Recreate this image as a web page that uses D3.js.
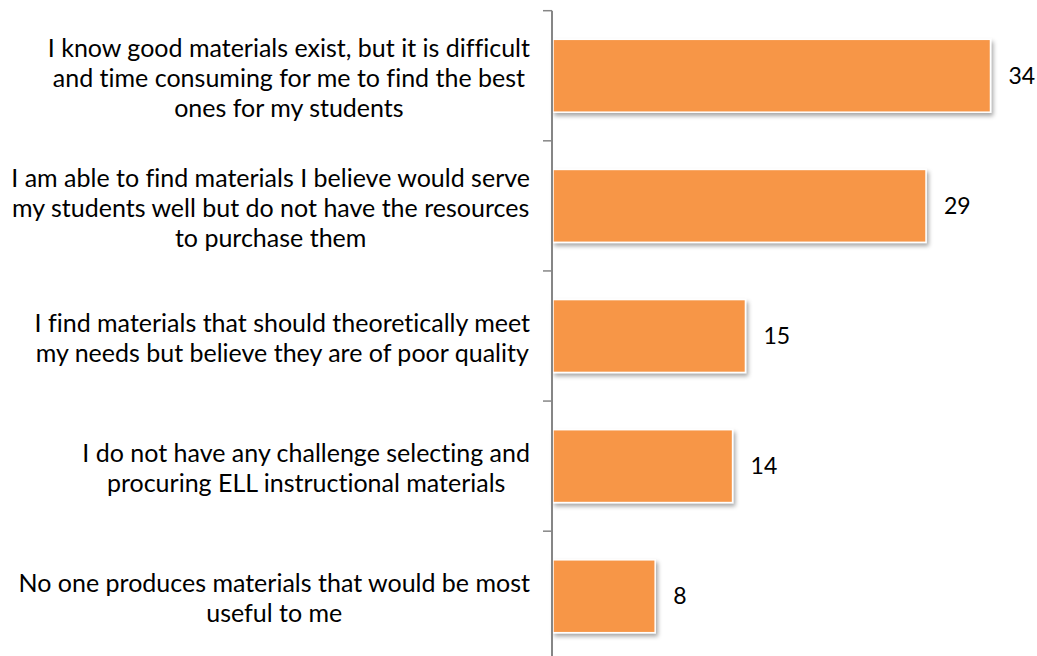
<!DOCTYPE html>
<html>
<head>
<meta charset="utf-8">
<script src="https://cdn.jsdelivr.net/npm/d3@7"></script>
<style>
  html, body { margin: 0; padding: 0; background: #ffffff; }
  svg { display: block; }
  text { font-family: Lato, "Open Sans", sans-serif; fill: #000000; font-variant-ligatures: none; }
</style>
</head>
<body>
<svg id="chart" width="1037" height="656"></svg>
<script>
// Survey responses: challenges in selecting ELL instructional materials
const categories = [
  "I know good materials exist, but it is difficult and time consuming for me to find the best ones for my students",
  "I am able to find materials I believe would serve my students well but do not have the resources to purchase them",
  "I find materials that should theoretically meet my needs but believe they are of poor quality",
  "I do not have any challenge selecting and procuring ELL instructional materials",
  "No one produces materials that would be most useful to me"
];
const labelLines = [
  ["I know good materials exist, but it is difficult", "and time consuming for me to find the best", "ones for my students"],
  ["I am able to find materials I believe would serve", "my students well but do not have the resources", "to purchase them"],
  ["I find materials that should theoretically meet", "my needs but believe they are of poor quality"],
  ["I do not have any challenge selecting and", "procuring ELL instructional materials"],
  ["No one produces materials that would be most", "useful to me"]
];
const values = [34, 29, 15, 14, 8];

const W = 1037, H = 656;
const axisX = 552;
const labelFont = 25;
const valueFont = 23;
const lineGap = 30;

const svg = d3.select("#chart");

const defs = svg.append("defs");
const shadow = defs.append("filter").attr("id", "barShadow")
  .attr("x", "-10%").attr("y", "-20%").attr("width", "130%").attr("height", "150%");
shadow.append("feDropShadow")
  .attr("dx", 2).attr("dy", 3).attr("stdDeviation", 2)
  .attr("flood-color", "#000").attr("flood-opacity", 0.35);

const y = d3.scaleBand()
  .domain(categories)
  .range([10.7, 661.3])
  .paddingInner(0.44)
  .paddingOuter(0.22);

const x = d3.scaleLinear()
  .domain([0, d3.max(values)])
  .range([axisX, 990.5]);

const data = categories.map((c, i) => ({ cat: c, value: values[i], lines: labelLines[i] }));

// bars
svg.append("g").selectAll("rect")
  .data(data)
  .join("rect")
  .attr("x", x(0) + 1)
  .attr("y", d => y(d.cat))
  .attr("width", d => x(d.value) - x(0) - 1)
  .attr("height", y.bandwidth())
  .attr("fill", "#F79646")
  .attr("stroke", "#ffffff")
  .attr("stroke-width", 1.5)
  .attr("filter", "url(#barShadow)");

// value labels
svg.append("g").selectAll("text")
  .data(data)
  .join("text")
  .attr("x", d => x(d.value) + 18)
  .attr("y", d => y(d.cat) + y.bandwidth() / 2)
  .attr("dy", "0.35em")
  .attr("font-size", valueFont)
  .text(d => d.value);

// category axis with ticks at band boundaries
const step = y.step();
const bounds = d3.range(categories.length + 1).map(i => y.range()[0] + i * step);
const axisG = svg.append("g");
axisG.append("line")
  .attr("x1", axisX).attr("x2", axisX)
  .attr("y1", bounds[0]).attr("y2", H)
  .attr("stroke", "#868686").attr("stroke-width", 2);
axisG.selectAll("line.tick")
  .data(bounds)
  .join("line")
  .attr("class", "tick")
  .attr("x1", axisX - 9).attr("x2", axisX)
  .attr("y1", d => d).attr("y2", d => d)
  .attr("stroke", "#868686").attr("stroke-width", 1.5);

// category labels: each block centred, block right-aligned to the axis
const labelRight = 530;
const labelG = svg.append("g");
data.forEach(d => {
  const g = labelG.append("g");
  const cy = y(d.cat) + y.bandwidth() / 2;
  const n = d.lines.length;
  const texts = g.selectAll("text")
    .data(d.lines)
    .join("text")
    .attr("font-size", labelFont)
    .attr("text-anchor", "middle")
    .attr("y", (l, i) => cy + 2 + (i - (n - 1) / 2) * lineGap)
    .attr("dy", "0.35em")
    .text(l => l);
  let maxW = 0;
  texts.each(function () { maxW = Math.max(maxW, this.getComputedTextLength()); });
  texts.attr("x", labelRight - maxW / 2);
});
</script>
</body>
</html>
